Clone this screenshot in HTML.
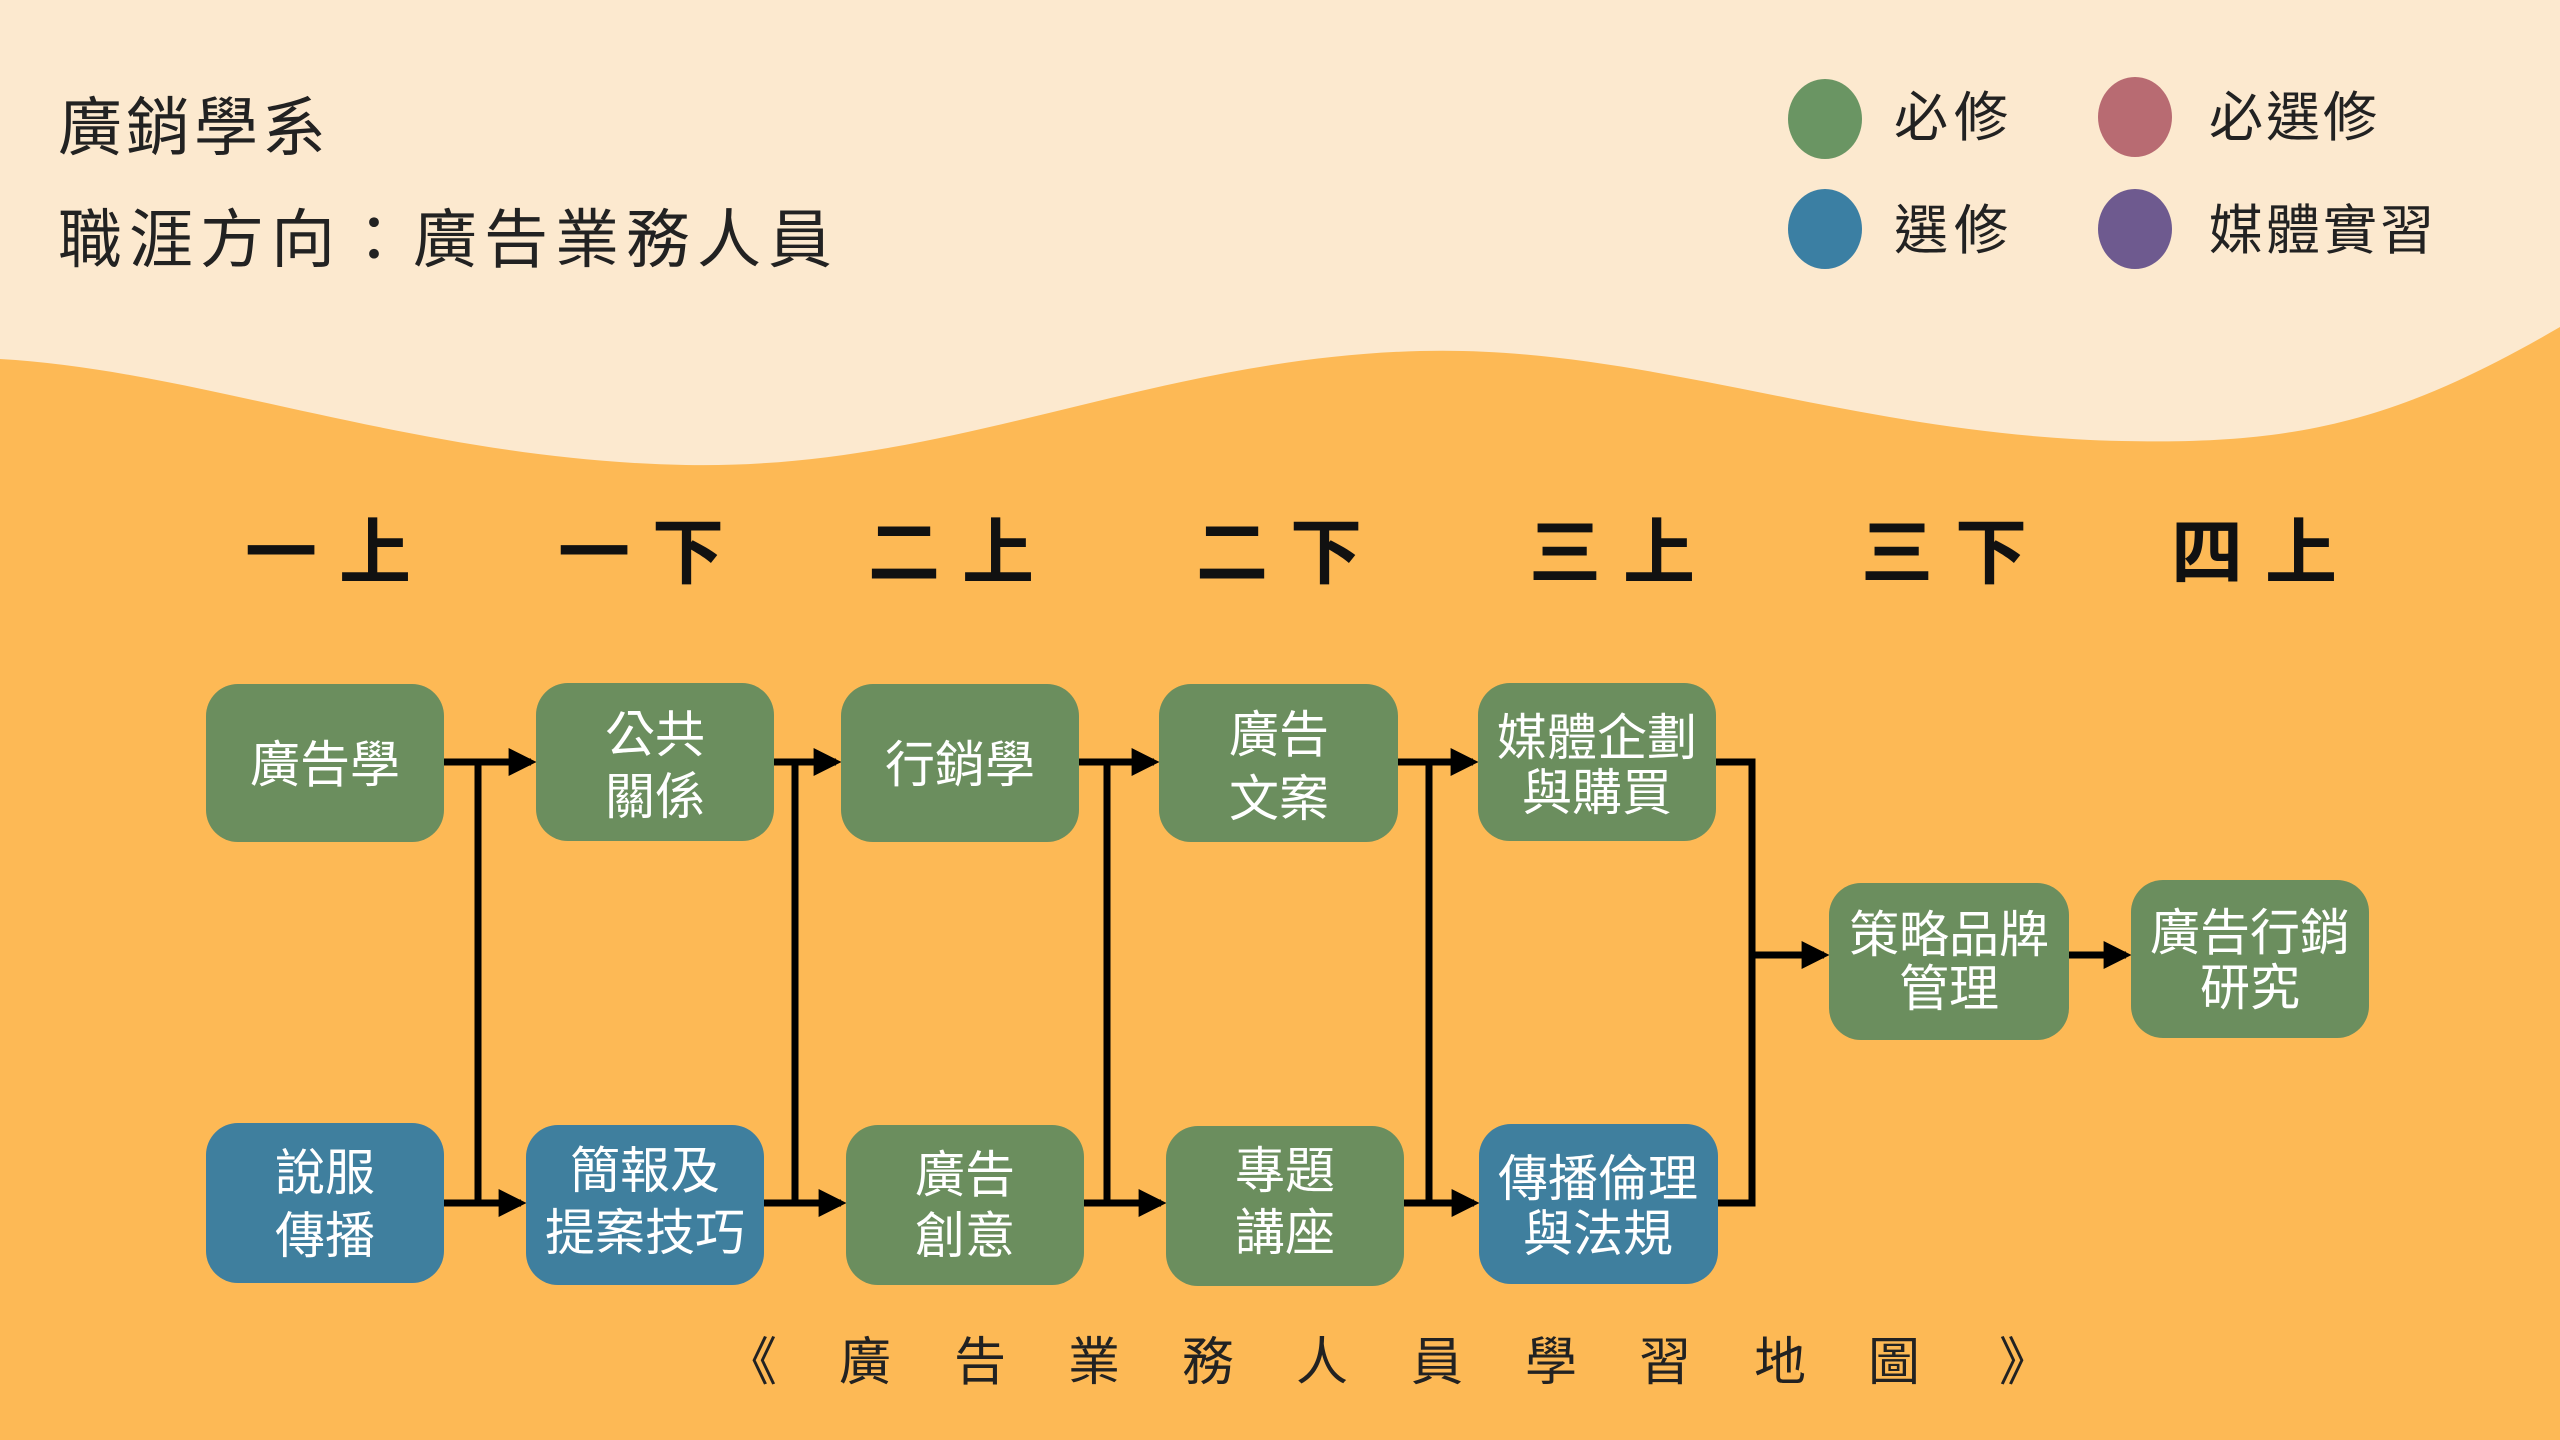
<!DOCTYPE html>
<html><head><meta charset="utf-8"><style>
html,body{margin:0;padding:0;width:2560px;height:1440px;overflow:hidden;background:#fdb955}
svg{display:block}
text{font-family:"Liberation Sans","Noto Sans CJK TC",sans-serif}
</style></head><body>
<svg width="2560" height="1440" viewBox="0 0 2560 1440" xmlns="http://www.w3.org/2000/svg">
<defs>
<marker id="ah" markerWidth="4" markerHeight="4" refX="3.2" refY="2" orient="auto" markerUnits="strokeWidth"><path d="M0,0 L4,2 L0,4 z" fill="#000"/></marker>
</defs>
<rect width="2560" height="1440" fill="#fdb955"/>
<path d="M0,0 H2560 V327 C2400,420 2300,445 2122,441 C1850,435 1650,345 1420,351 C1150,358 950,470 686,465 C420,460 200,370 0,359 Z" fill="#fce9cf"/>

<g fill="#222" font-size="64">
<text x="58" y="150" letter-spacing="4">廣銷學系</text>
<text x="58" y="262" letter-spacing="7">職涯方向：廣告業務人員</text>
</g>

<ellipse cx="1825" cy="119" rx="37" ry="40" fill="#6a9563"/>
<ellipse cx="2135" cy="117" rx="37" ry="40" fill="#b86b72"/>
<ellipse cx="1825" cy="229" rx="37" ry="40" fill="#3b7fa3"/>
<ellipse cx="2135" cy="229" rx="37" ry="40" fill="#6e5a8f"/>
<g fill="#222" font-size="54">
<text x="1894" y="136" letter-spacing="6">必修</text>
<text x="2209" y="136" letter-spacing="3">必選修</text>
<text x="1894" y="249" letter-spacing="6">選修</text>
<text x="2209" y="249" letter-spacing="3">媒體實習</text>
</g>

<g fill="#111" font-size="72" font-weight="bold" text-anchor="middle">
<text x="339" y="578" letter-spacing="22">一上</text>
<text x="652" y="578" letter-spacing="22">一下</text>
<text x="962" y="578" letter-spacing="22">二上</text>
<text x="1290" y="578" letter-spacing="22">二下</text>
<text x="1623" y="578" letter-spacing="22">三上</text>
<text x="1955" y="578" letter-spacing="22">三下</text>
<text x="2265" y="578" letter-spacing="22">四上</text>
</g>

<g stroke="#000" stroke-width="7" fill="none">
<line x1="444" y1="762" x2="531" y2="762" marker-end="url(#ah)"/>
<line x1="774" y1="762" x2="836" y2="762" marker-end="url(#ah)"/>
<line x1="1079" y1="762" x2="1154" y2="762" marker-end="url(#ah)"/>
<line x1="1398" y1="762" x2="1473" y2="762" marker-end="url(#ah)"/>
<line x1="444" y1="1203" x2="521" y2="1203" marker-end="url(#ah)"/>
<line x1="764" y1="1203" x2="841" y2="1203" marker-end="url(#ah)"/>
<line x1="1084" y1="1203" x2="1161" y2="1203" marker-end="url(#ah)"/>
<line x1="1404" y1="1203" x2="1474" y2="1203" marker-end="url(#ah)"/>
<line x1="478" y1="762" x2="478" y2="1203"/>
<line x1="795" y1="762" x2="795" y2="1203"/>
<line x1="1107" y1="762" x2="1107" y2="1203"/>
<line x1="1429" y1="762" x2="1429" y2="1203"/>
<polyline points="1716,762 1752,762 1752,1203 1718,1203"/>
<line x1="1752" y1="955" x2="1824" y2="955" marker-end="url(#ah)"/>
<line x1="2069" y1="955" x2="2126" y2="955" marker-end="url(#ah)"/>
</g>

<g>
<rect x="206" y="684" width="238" height="158" rx="32" fill="#6b8e5e"/>
<rect x="536" y="683" width="238" height="158" rx="32" fill="#6b8e5e"/>
<rect x="841" y="684" width="238" height="158" rx="32" fill="#6b8e5e"/>
<rect x="1159" y="684" width="239" height="158" rx="32" fill="#6b8e5e"/>
<rect x="1478" y="683" width="238" height="158" rx="32" fill="#6b8e5e"/>
<rect x="206" y="1123" width="238" height="160" rx="32" fill="#3f7f9e"/>
<rect x="526" y="1125" width="238" height="160" rx="32" fill="#3f7f9e"/>
<rect x="846" y="1125" width="238" height="160" rx="32" fill="#6b8e5e"/>
<rect x="1166" y="1126" width="238" height="160" rx="32" fill="#6b8e5e"/>
<rect x="1479" y="1124" width="239" height="160" rx="32" fill="#3f7f9e"/>
<rect x="1829" y="883" width="240" height="157" rx="32" fill="#6b8e5e"/>
<rect x="2131" y="880" width="238" height="158" rx="32" fill="#6b8e5e"/>
</g>

<g fill="#fff" font-size="50" text-anchor="middle">
<text x="325" y="782">廣告學</text>
<text x="655" y="752">公共</text><text x="655" y="814">關係</text>
<text x="960" y="782">行銷學</text>
<text x="1279" y="752">廣告</text><text x="1279" y="816">文案</text>
<text x="1597" y="755">媒體企劃</text><text x="1597" y="810">與購買</text>
<text x="325" y="1190">說服</text><text x="325" y="1253">傳播</text>
<text x="645" y="1188">簡報及</text><text x="645" y="1250">提案技巧</text>
<text x="965" y="1192">廣告</text><text x="965" y="1253">創意</text>
<text x="1285" y="1188">專題</text><text x="1285" y="1250">講座</text>
<text x="1598" y="1196">傳播倫理</text><text x="1598" y="1251">與法規</text>
<text x="1949" y="952">策略品牌</text><text x="1949" y="1006">管理</text>
<text x="2250" y="950">廣告行銷</text><text x="2250" y="1005">研究</text>
</g>

<g fill="#222" font-size="52" text-anchor="middle">
<text x="751" y="1380">《</text>
<text x="865" y="1380">廣</text>
<text x="980" y="1380">告</text>
<text x="1094" y="1380">業</text>
<text x="1208" y="1380">務</text>
<text x="1322" y="1380">人</text>
<text x="1437" y="1380">員</text>
<text x="1551" y="1380">學</text>
<text x="1665" y="1380">習</text>
<text x="1780" y="1380">地</text>
<text x="1894" y="1380">圖</text>
<text x="2025" y="1380">》</text>
</g>
</svg>
</body></html>
